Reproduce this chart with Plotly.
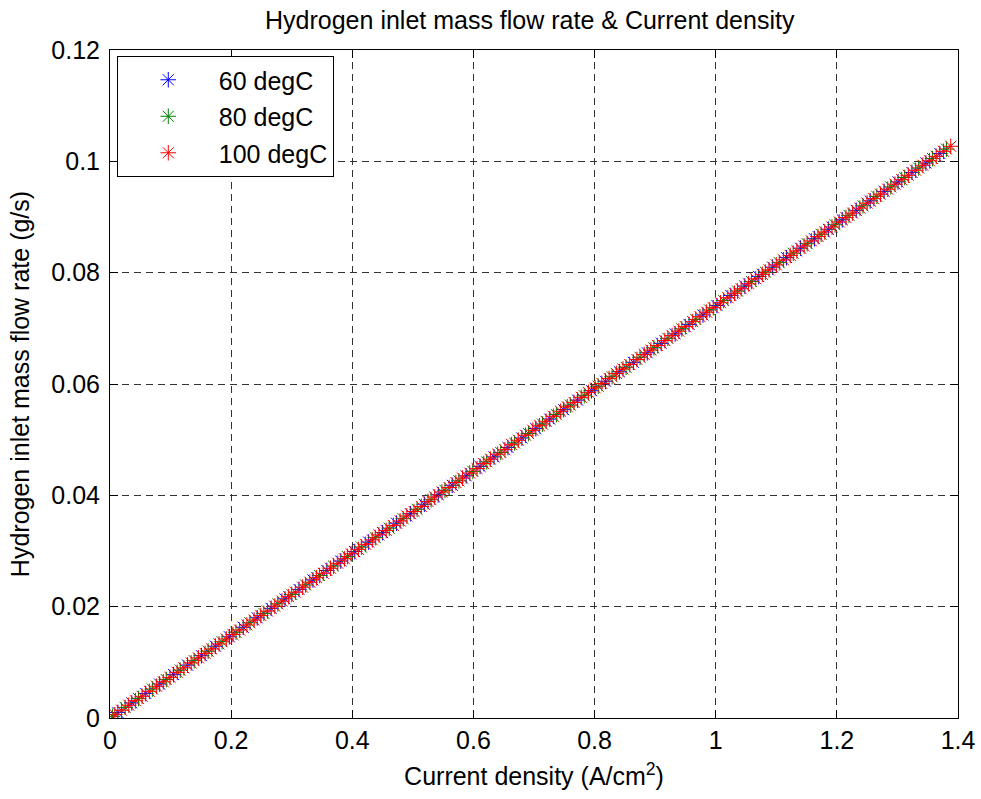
import plotly.graph_objects as go

# Current density (A/cm^2) and hydrogen inlet mass flow rate (g/s) per stack temperature
j_60 = [0.013, 0.036, 0.059, 0.082, 0.105, 0.128, 0.151, 0.174, 0.197, 0.220, 0.243, 0.266, 0.289, 0.312, 0.335,
        0.358, 0.381, 0.404, 0.427, 0.450, 0.473, 0.496, 0.519, 0.542, 0.565, 0.588, 0.611, 0.634, 0.657, 0.680,
        0.703, 0.726, 0.749, 0.772, 0.795, 0.818, 0.841, 0.864, 0.887, 0.910, 0.933, 0.956, 0.979, 1.002, 1.025,
        1.048, 1.071, 1.094, 1.117, 1.140, 1.163, 1.186, 1.209, 1.232, 1.255, 1.278, 1.301, 1.324, 1.347, 1.370]
m_60 = [0.0010, 0.0027, 0.0044, 0.0061, 0.0078, 0.0095, 0.0112, 0.0129, 0.0146, 0.0163, 0.0180, 0.0197, 0.0214,
        0.0231, 0.0248, 0.0265, 0.0282, 0.0299, 0.0316, 0.0333, 0.0350, 0.0367, 0.0384, 0.0401, 0.0418, 0.0435,
        0.0452, 0.0469, 0.0486, 0.0503, 0.0520, 0.0537, 0.0554, 0.0571, 0.0588, 0.0605, 0.0622, 0.0639, 0.0656,
        0.0673, 0.0690, 0.0707, 0.0724, 0.0741, 0.0759, 0.0776, 0.0793, 0.0810, 0.0827, 0.0844, 0.0861, 0.0878,
        0.0895, 0.0912, 0.0929, 0.0946, 0.0963, 0.0980, 0.0997, 0.1014]

j_80 = [0.004, 0.025, 0.047, 0.070, 0.093, 0.116, 0.139, 0.162, 0.185, 0.208, 0.231, 0.254, 0.277, 0.300, 0.323,
        0.346, 0.369, 0.392, 0.415, 0.438, 0.461, 0.484, 0.507, 0.530, 0.553, 0.576, 0.599, 0.622, 0.645, 0.668,
        0.691, 0.714, 0.737, 0.760, 0.783, 0.806, 0.829, 0.852, 0.875, 0.898, 0.921, 0.944, 0.967, 0.990, 1.013,
        1.036, 1.059, 1.082, 1.105, 1.128, 1.151, 1.174, 1.197, 1.220, 1.243, 1.266, 1.289, 1.312, 1.335, 1.358,
        1.381]
m_80 = [0.0003, 0.0019, 0.0035, 0.0052, 0.0069, 0.0086, 0.0103, 0.0120, 0.0137, 0.0154, 0.0171, 0.0188, 0.0205,
        0.0222, 0.0239, 0.0256, 0.0273, 0.0290, 0.0307, 0.0324, 0.0341, 0.0358, 0.0375, 0.0392, 0.0409, 0.0426,
        0.0443, 0.0460, 0.0477, 0.0494, 0.0511, 0.0528, 0.0545, 0.0562, 0.0579, 0.0596, 0.0613, 0.0630, 0.0648,
        0.0665, 0.0682, 0.0699, 0.0716, 0.0733, 0.0750, 0.0767, 0.0784, 0.0801, 0.0818, 0.0835, 0.0852, 0.0869,
        0.0886, 0.0903, 0.0920, 0.0937, 0.0954, 0.0971, 0.0988, 0.1005, 0.1022]

j_100 = [0.008, 0.019, 0.031, 0.042, 0.053, 0.065, 0.077, 0.088, 0.099, 0.111, 0.122, 0.134, 0.146, 0.157, 0.168,
         0.180, 0.192, 0.203, 0.214, 0.226, 0.238, 0.249, 0.260, 0.272, 0.284, 0.295, 0.306, 0.318, 0.330, 0.341,
         0.352, 0.364, 0.376, 0.387, 0.398, 0.410, 0.422, 0.433, 0.444, 0.456, 0.468, 0.479, 0.490, 0.502, 0.514,
         0.525, 0.536, 0.548, 0.560, 0.571, 0.582, 0.594, 0.606, 0.617, 0.628, 0.640, 0.652, 0.663, 0.674, 0.686,
         0.698, 0.709, 0.720, 0.732, 0.744, 0.755, 0.766, 0.778, 0.790, 0.801, 0.812, 0.824, 0.836, 0.847, 0.858,
         0.870, 0.882, 0.893, 0.904, 0.916, 0.928, 0.939, 0.950, 0.962, 0.974, 0.985, 0.996, 1.008, 1.020, 1.031,
         1.042, 1.054, 1.066, 1.077, 1.088, 1.100, 1.112, 1.123, 1.134, 1.146, 1.158, 1.169, 1.180, 1.192, 1.204,
         1.215, 1.226, 1.238, 1.250, 1.261, 1.272, 1.284, 1.296, 1.307, 1.318, 1.330, 1.342, 1.353, 1.364, 1.376,
         1.388]
m_100 = [0.0006, 0.0014, 0.0023, 0.0031, 0.0039, 0.0048, 0.0057, 0.0065, 0.0073, 0.0082, 0.0090, 0.0099, 0.0108,
         0.0116, 0.0124, 0.0133, 0.0142, 0.0150, 0.0158, 0.0167, 0.0176, 0.0184, 0.0192, 0.0201, 0.0210, 0.0218,
         0.0226, 0.0235, 0.0244, 0.0252, 0.0260, 0.0269, 0.0278, 0.0286, 0.0295, 0.0303, 0.0312, 0.0320, 0.0329,
         0.0337, 0.0346, 0.0354, 0.0363, 0.0371, 0.0380, 0.0389, 0.0397, 0.0406, 0.0414, 0.0423, 0.0431, 0.0440,
         0.0448, 0.0457, 0.0465, 0.0474, 0.0482, 0.0491, 0.0499, 0.0508, 0.0517, 0.0525, 0.0533, 0.0542, 0.0551,
         0.0559, 0.0567, 0.0576, 0.0585, 0.0593, 0.0601, 0.0610, 0.0619, 0.0627, 0.0635, 0.0644, 0.0653, 0.0661,
         0.0669, 0.0678, 0.0687, 0.0695, 0.0703, 0.0712, 0.0721, 0.0729, 0.0737, 0.0746, 0.0755, 0.0763, 0.0771,
         0.0780, 0.0789, 0.0797, 0.0805, 0.0814, 0.0823, 0.0831, 0.0839, 0.0848, 0.0857, 0.0865, 0.0873, 0.0882,
         0.0891, 0.0899, 0.0907, 0.0916, 0.0925, 0.0933, 0.0941, 0.0950, 0.0959, 0.0967, 0.0975, 0.0984, 0.0993,
         0.1001, 0.1009, 0.1018, 0.1027]

series = [
    ("60 degC", j_60, m_60, "#0000ff"),
    ("80 degC", j_80, m_80, "#008000"),
    ("100 degC", j_100, m_100, "#ff0000"),
]

x_ticks = [0, 0.2, 0.4, 0.6, 0.8, 1.0, 1.2, 1.4]
x_labels = ["0", "0.2", "0.4", "0.6", "0.8", "1", "1.2", "1.4"]
y_ticks = [0, 0.02, 0.04, 0.06, 0.08, 0.10, 0.12]
y_labels = ["0", "0.02", "0.04", "0.06", "0.08", "0.1", "0.12"]

FONT = "Liberation Sans, Arial, sans-serif"
FS = 25

fig = go.Figure()
for name, xs, ys, col in series:
    fig.add_trace(go.Scatter(
        x=xs, y=ys, mode="markers", name=name, legendgroup=name,
        marker=dict(symbol="asterisk-open", size=13, color=col,
                    line=dict(color=col, width=1)),
    ))

axis_common = dict(
    showline=True, linecolor="black", linewidth=1, mirror="ticks",
    ticks="inside", ticklen=8, tickcolor="black", tickwidth=1,
    showgrid=True, gridcolor="#333333", gridwidth=1, griddash="7px,5px",
    zeroline=False, automargin=False,
    tickfont=dict(family=FONT, size=FS, color="black"),
    title_font=dict(family=FONT, size=FS, color="black"),
)

fig.update_xaxes(range=[0, 1.4], tickvals=x_ticks, ticktext=x_labels,
                 title_text="Current density (A/cm<sup>2</sup>)", title_standoff=14,
                 **axis_common)
fig.update_yaxes(range=[0, 0.12], tickvals=y_ticks, ticktext=y_labels,
                 title_text="Hydrogen inlet mass flow rate (g/s)", title_standoff=14,
                 ticklabelstandoff=4, **axis_common)

fig.update_layout(
    width=981, height=799,
    margin=dict(l=110, r=23, t=50, b=81),
    paper_bgcolor="white", plot_bgcolor="white",
    title=dict(text="Hydrogen inlet mass flow rate & Current density",
               x=0.54, xanchor="center", y=0.975, yanchor="middle",
               font=dict(family=FONT, size=FS, color="black")),
    legend=dict(x=0.008, y=0.991, xanchor="left", yanchor="top",
                bgcolor="white", bordercolor="black", borderwidth=1,
                font=dict(family=FONT, size=FS, color="black"),
                itemwidth=91, tracegroupgap=1),
    showlegend=True,
)

fig.write_html("out.html")
